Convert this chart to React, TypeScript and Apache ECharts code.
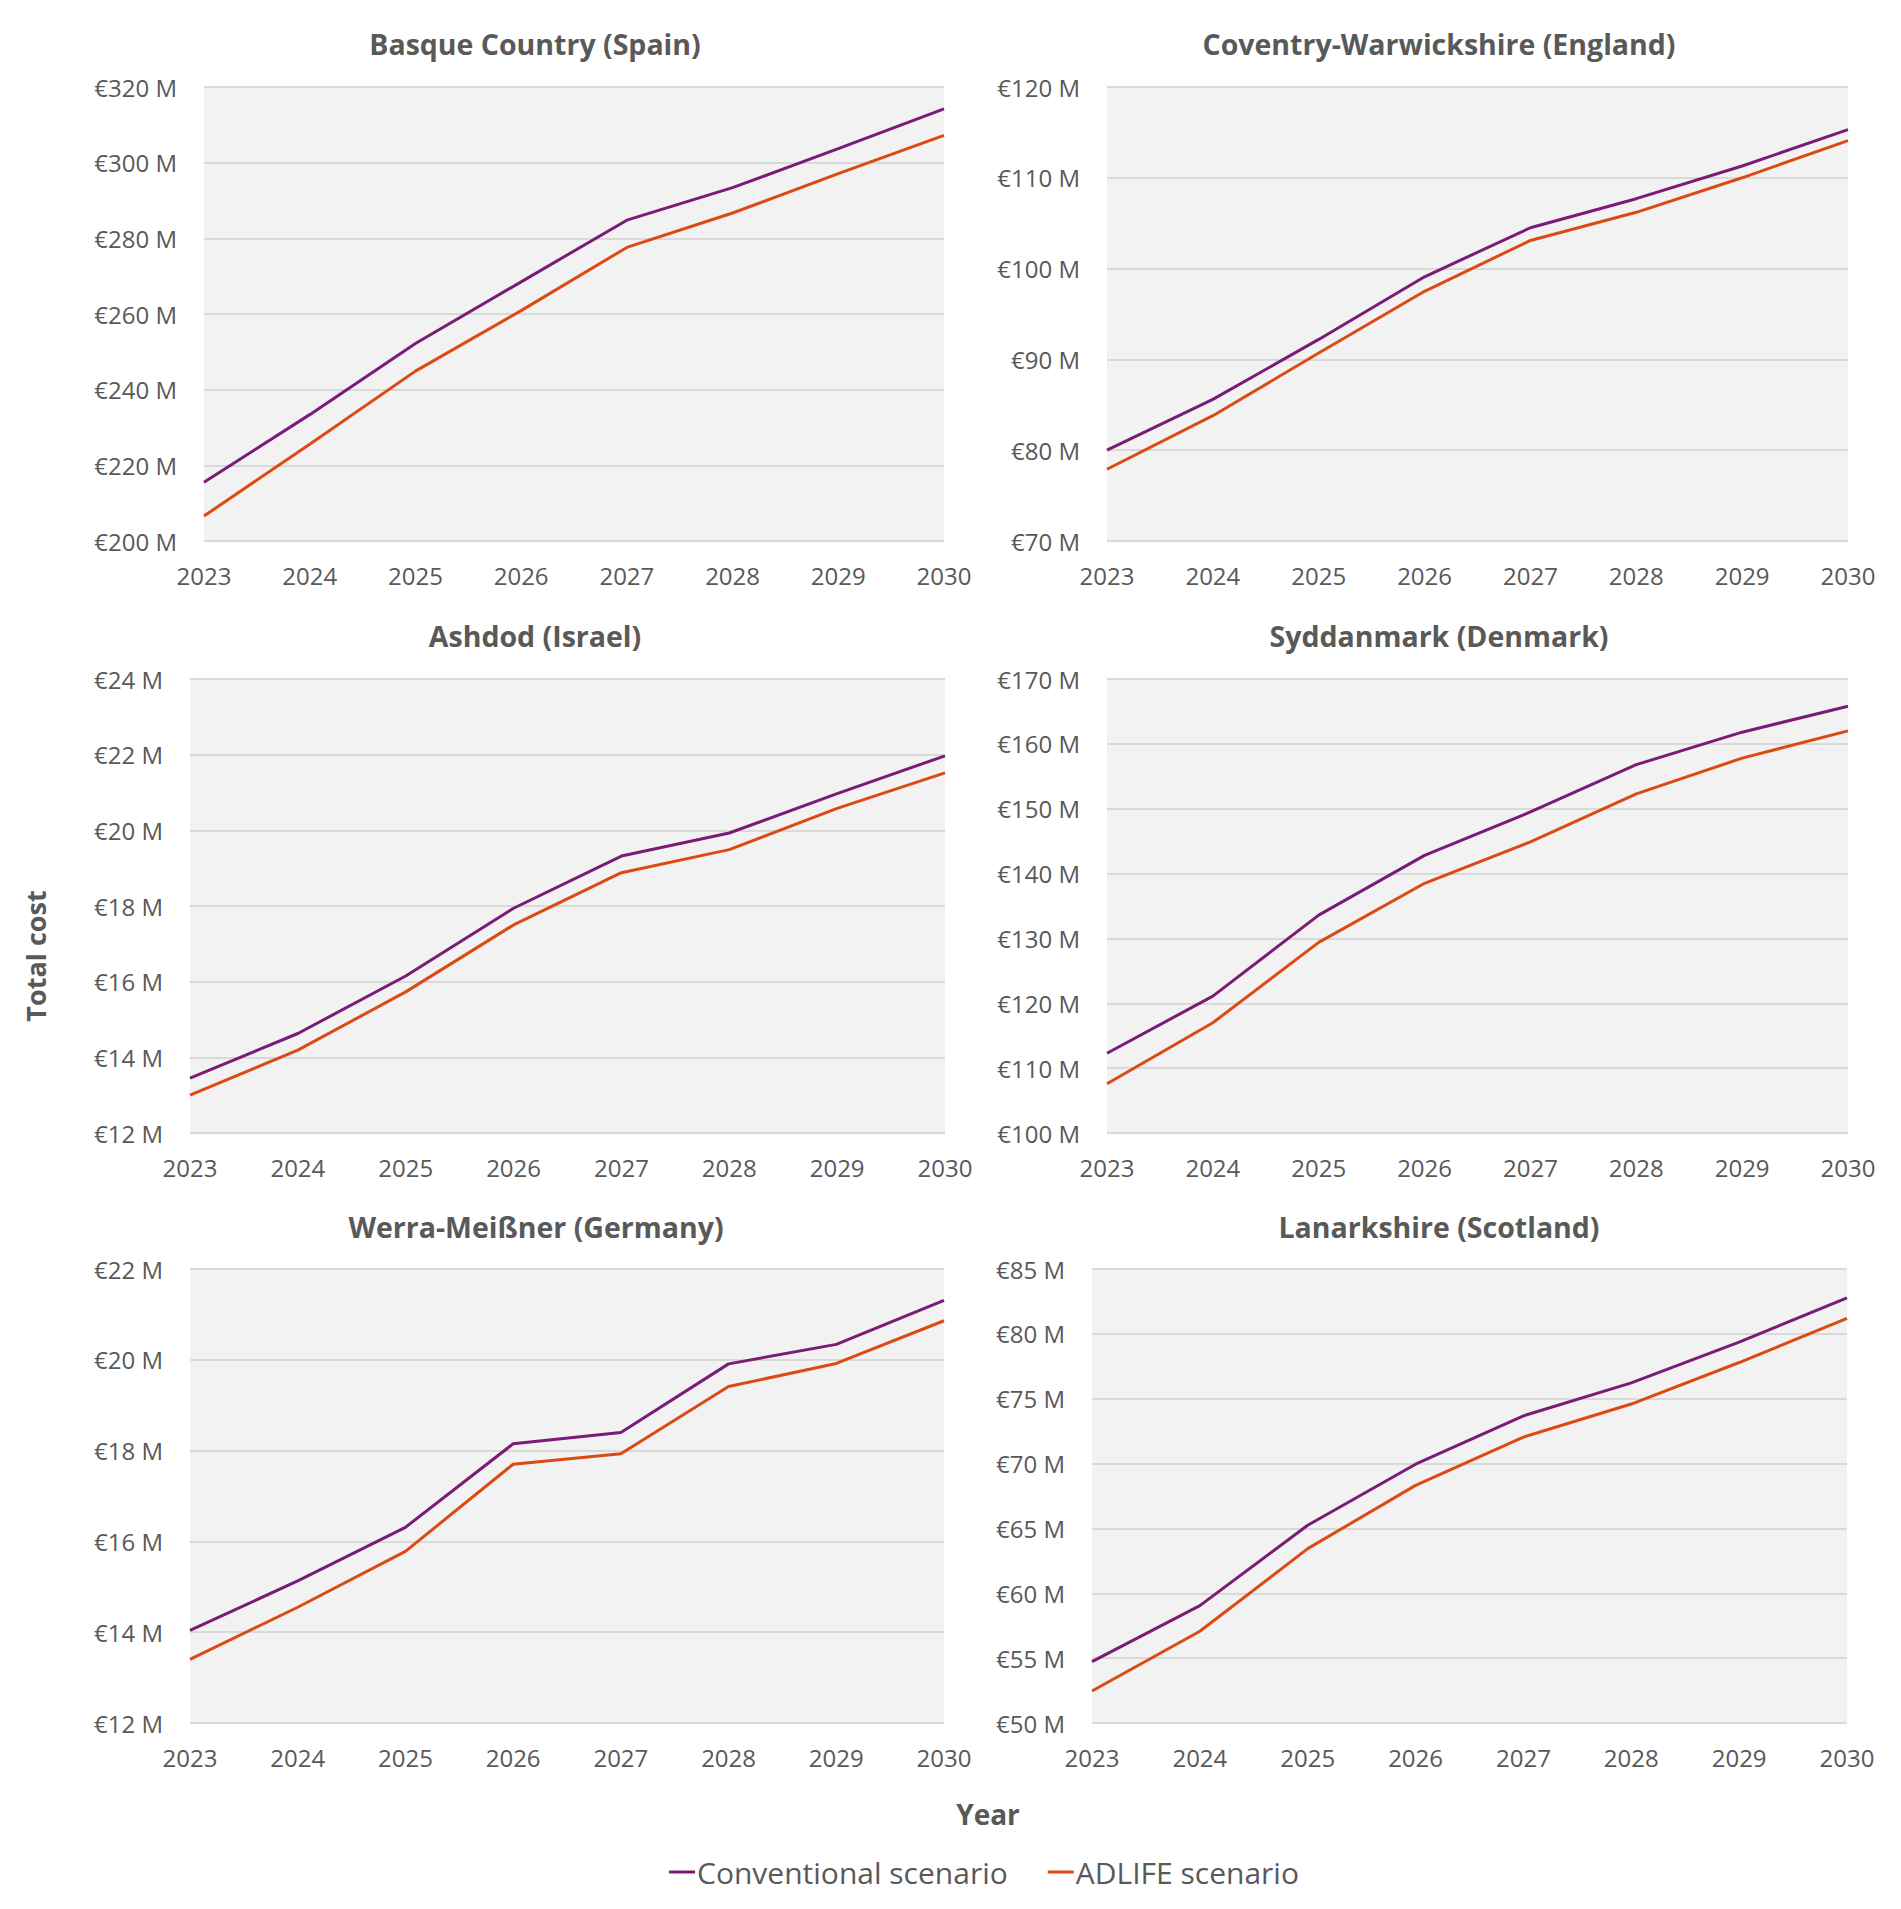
import React, { useEffect, useRef } from "react";
import * as echarts from "echarts";

const years = ["2023", "2024", "2025", "2026", "2027", "2028", "2029", "2030"];
const seriesNames = ["Conventional scenario", "ADLIFE scenario"];

const regionTitles = [
  "Basque Country (Spain)",
  "Coventry-Warwickshire (England)",
  "Ashdod (Israel)",
  "Syddanmark (Denmark)",
  "Werra-Meißner (Germany)",
  "Lanarkshire (Scotland)",
];

// values in € millions
const basqueConv = [215.5, 233.4, 252.2, 268.5, 284.8, 293.4, 303.7, 314.2];
const basqueAdl = [206.6, 225.6, 244.9, 260.9, 277.6, 286.7, 297.1, 307.2];
const coventryConv = [80.0, 85.6, 92.2, 99.1, 104.5, 107.7, 111.3, 115.3];
const coventryAdl = [77.9, 83.8, 90.7, 97.5, 103.1, 106.2, 110.0, 114.1];
const ashdodConv = [13.45, 14.63, 16.15, 17.94, 19.32, 19.93, 20.97, 21.97];
const ashdodAdl = [13.0, 14.19, 15.73, 17.5, 18.88, 19.49, 20.58, 21.52];
const syddanConv = [112.3, 121.1, 133.6, 142.8, 149.5, 156.8, 161.8, 165.8];
const syddanAdl = [107.6, 117.0, 129.4, 138.5, 144.9, 152.3, 157.8, 162.0];
const werraConv = [14.04, 15.13, 16.31, 18.15, 18.4, 19.91, 20.34, 21.31];
const werraAdl = [13.4, 14.55, 15.78, 17.7, 17.93, 19.41, 19.92, 20.86];
const lanarkConv = [54.73, 59.05, 65.25, 69.95, 73.68, 76.22, 79.36, 82.77];
const lanarkAdl = [52.47, 57.07, 63.44, 68.32, 72.04, 74.59, 77.79, 81.2];

const convData = [basqueConv, coventryConv, ashdodConv, syddanConv, werraConv, lanarkConv];
const adlData = [basqueAdl, coventryAdl, ashdodAdl, syddanAdl, werraAdl, lanarkAdl];

// y-axis scales: [min, max, interval]
const yScales = [
  [200, 320, 20],
  [70, 120, 10],
  [12, 24, 2],
  [100, 170, 10],
  [12, 22, 2],
  [50, 85, 5],
];

const xAxisTitle = "Year";
const yAxisTitle = "Total cost";

// layout (pixels)
const grids = [
  { left: 204, top: 87, width: 740, height: 454 },
  { left: 1107, top: 87, width: 741, height: 454 },
  { left: 190, top: 679, width: 755, height: 454 },
  { left: 1107, top: 679, width: 741, height: 454 },
  { left: 190, top: 1269, width: 754, height: 454 },
  { left: 1092, top: 1269, width: 755, height: 454 },
];
const titlePos = [
  [535, 44],
  [1439, 44],
  [535, 636],
  [1439, 636],
  [536, 1227],
  [1439, 1227],
];

const PURPLE = "#7a1b78";
const ORANGE = "#dc4a14";
const TEXT = "#595959";
const FONT = "'Open Sans', 'Noto Sans', sans-serif";

export default function App() {
  const ref = useRef<HTMLDivElement>(null);

  useEffect(() => {
    document.body.style.margin = "0";
    const chart = echarts.init(ref.current!, null, { renderer: "svg" });

    const xAxis = grids.map((_, i) => ({
      type: "category",
      gridIndex: i,
      data: years,
      boundaryGap: false,
      axisLine: { show: false },
      axisTick: { show: false },
      axisLabel: { color: TEXT, fontSize: 24, fontFamily: FONT, margin: 22 },
      splitLine: { show: false },
    }));

    const yAxis = grids.map((_, i) => ({
      type: "value",
      gridIndex: i,
      min: yScales[i][0],
      max: yScales[i][1],
      interval: yScales[i][2],
      axisLine: { show: false },
      axisTick: { show: false },
      axisLabel: {
        color: TEXT,
        fontSize: 24,
        fontFamily: FONT,
        margin: 27,
        formatter: (v: number) => "€" + v + " M",
      },
      splitLine: { show: true, lineStyle: { color: "#d9d9d9", width: 2 } },
    }));

    const series: any[] = [];
    grids.forEach((_, i) => {
      series.push({
        name: seriesNames[0],
        type: "line",
        xAxisIndex: i,
        yAxisIndex: i,
        data: convData[i],
        symbol: "none",
        lineStyle: { color: PURPLE, width: 3 },
        itemStyle: { color: PURPLE },
        z: 3,
      });
      series.push({
        name: seriesNames[1],
        type: "line",
        xAxisIndex: i,
        yAxisIndex: i,
        data: adlData[i],
        symbol: "none",
        lineStyle: { color: ORANGE, width: 3 },
        itemStyle: { color: ORANGE },
        z: 2,
      });
    });

    const graphic: any[] = regionTitles.map((t, i) => ({
      type: "text",
      x: titlePos[i][0],
      y: titlePos[i][1],
      style: {
        text: t,
        fill: TEXT,
        font: `bold 28.5px ${FONT}`,
        align: "center",
        verticalAlign: "middle",
      },
    }));
    graphic.push({
      type: "text",
      x: 988,
      y: 1814,
      style: {
        text: xAxisTitle,
        fill: TEXT,
        font: `bold 28px ${FONT}`,
        align: "center",
        verticalAlign: "middle",
      },
    });
    graphic.push({
      type: "text",
      x: 35,
      y: 956,
      rotation: Math.PI / 2,
      style: {
        text: yAxisTitle,
        fill: TEXT,
        font: `bold 27px ${FONT}`,
        align: "center",
        verticalAlign: "middle",
      },
    });

    chart.setOption({
      animation: false,
      backgroundColor: "#ffffff",
      grid: grids.map((g) => ({
        ...g,
        show: true,
        backgroundColor: "#f2f2f2",
        borderWidth: 0,
        containLabel: false,
      })),
      xAxis,
      yAxis,
      series,
      legend: {
        data: seriesNames,
        left: 669,
        top: 1857,
        padding: 0,
        icon: "rect",
        itemWidth: 26,
        itemHeight: 3,
        itemGap: 40,
        textStyle: { color: TEXT, fontSize: 30, fontFamily: FONT, padding: [0, 0, 0, -3] },
        selectedMode: false,
      },
      graphic,
    });

    return () => chart.dispose();
  }, []);

  return <div ref={ref} style={{ width: 1901, height: 1909 }} />;
}
